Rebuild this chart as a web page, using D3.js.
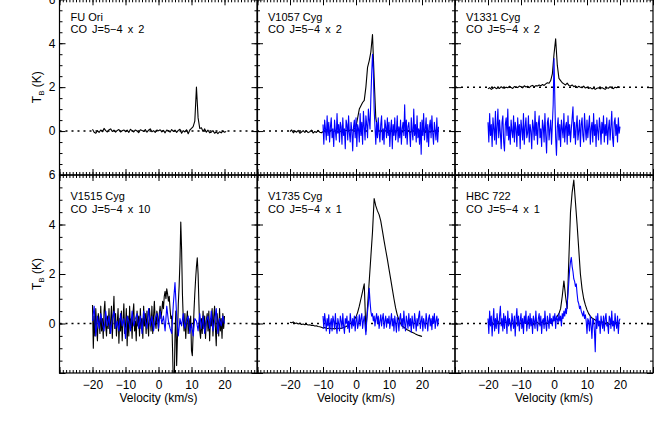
<!DOCTYPE html>
<html><head><meta charset="utf-8">
<script src="https://cdn.jsdelivr.net/npm/d3@7"></script>
<style>
body{margin:0;background:#fff}
svg{display:block}
text{font-family:"Liberation Sans",Arial,Helvetica,sans-serif;fill:#000}
</style>
</head><body>
<script>
// ---------------- data ----------------
const panelNames = ["FU Ori","V1057 Cyg","V1331 Cyg","V1515 Cyg","V1735 Cyg","HBC 722"];
const scaleFactors = [2,2,2,10,1,1];
const blackOffsets = [0,0,2,0,0,0];
const xTickValues = [-20,-10,0,10,20];
const yTickValues = [0,2,4,6];
const xDomain = [-30,30];
const yDomain = [-2,6];

// velocity grids: [start, step] (km/s)
const fuOriBlackGrid = [-20,0.5];
const fuOriBlack = [.08,-.05,-.1,.02,-.06,.05,-.03,.12,.02,-.04,
 .06,.1,-.02,.04,-.05,.03,.07,-.04,.01,.05,
 -.03,.04,-.06,.08,.02,-.04,.05,.0,-.07,.06,
 .03,-.02,.07,-.05,.04,.1,-.03,.02,-.06,.05,
 .01,.06,-.04,.03,-.08,.05,.02,-.05,.07,-.02,
 .04,-.06,.03,.08,-.1,.02,-.04,.06,-.12,.05,
 .12,.2,.45,2.0,.6,.12,.15,-.02,.1,-.05,
 .04,-.08,-.05,.02,-.1,-.04,-.12,-.03,-.08,.0,-.05,-.02];

const v1057BlackGrid = [-20,0.5];
const v1057Black = [-.02,.05,-.08,.0,-.05,.03,-.1,-.04,.02,-.06,
 .01,-.07,-.03,.04,-.09,-.02,-.06,.03,-.05,-.08,
 -.03,.02,-.06,.04,-.02,.05,-.04,.0,.03,-.05,
 .02,-.03,.05,-.01,.04,.0,.03,.06,.04,.1,
 .2,.6,1.0,1.15,1.3,1.4,2.0,2.9,3.2,3.6,
 4.4,2.4,.6,.12,.02,-.04,.05,-.03,.02,-.06,
 .03,-.05,.04,.0,-.07,.05,-.02,.03,-.04,.01,
 .05,-.03,.02,-.06,.04,.0,-.05,.03,-.02,.04,
 -.04,.02,-.06,.03,.0,-.05,.04,-.02,.03,-.06,.01];
const v1057BlueGrid = [-10,0.25];
const v1057Blue = [.3,-.6,.5,.1,-.4,.7,-.2,.4,-.5,.2,.6,-.3,.1,-.7,.5,.0,-.4,.8,-.1,.3,
 -.5,.4,.2,-.6,.6,-.2,.1,-.8,.5,.3,-.4,.7,-.1,-.5,.4,.0,-.9,.2,.5,-.3,
 .6,-.7,.3,.1,-.5,.8,-.2,.4,-.6,.9,.2,-.4,.7,.3,-.3,1.0,.5,.1,1.5,2.6,
 3.5,2.8,1.0,.2,-.6,.4,-.3,.6,-.1,-.5,.3,.7,-.4,.1,-.6,.5,.2,-.3,.6,-.2,
 .4,-.7,.1,.5,-.8,.3,-.2,.6,-.4,.0,.7,-.5,.2,-.3,.5,-.6,.1,.4,-.2,1.2,
 -.3,.5,-.6,.2,.4,-.1,-.7,.6,.0,-.4,1.0,-.2,.3,-.5,.7,-.3,.1,-.6,.4,-1.05,
 .5,-.2,.8,-.4,.1,.6,-.5,.3,-.7,.2,.5,-.3,.7,-.1,-.6,.4,.0,-.4,.6,-.5,.2];

const v1331BlackGrid = [-20,0.5];
const v1331Black = [-.08,-.02,-.1,-.05,.0,-.07,-.03,-.06,.02,-.04,
 -.05,.0,-.03,.04,-.02,-.06,.03,.0,-.02,.05,
 .02,-.03,.06,.01,.04,-.02,.05,.08,.02,.07,
 .05,.1,.06,.12,.08,.15,.2,.18,.3,.6,
 1.5,2.2,1.0,.4,.3,.2,.15,.1,.18,.08,
 .05,.1,.02,.06,-.02,.04,.0,-.03,.05,-.04,
 .0,-.06,-.02,-.08,-.04,-.1,-.05,-.03,-.08,-.02,
 -.06,-.1,-.03,-.05,.02,-.04,-.07,.0,-.03,.02,-.01];
const v1331BlueGrid = [-20,0.25];
const v1331Blue = [.4,-.5,.8,-.2,.3,-.7,.6,.1,-.4,.9,-.6,.2,1.0,-.3,.5,-.1,-.8,.4,.7,-.5,
 -.9,.3,.6,-.2,1.0,-.4,.2,-.6,.5,.0,-.3,.7,-.5,.4,.1,-.7,.6,-.2,.3,-.8,
 .5,.1,-.4,.8,-.6,.2,.6,-.3,-.1,.7,-.5,.3,.0,-.8,.5,.2,-.4,.9,-.2,.4,
 -.6,.3,.7,-.3,.1,-.7,.5,.2,-.5,.8,-.2,-1.0,.4,.6,-.4,.1,.5,-.6,.3,1.2,
 3.3,1.5,-.3,-1.1,.2,.6,-.4,.3,-.7,.5,.1,-.3,.8,-.5,.2,.4,-.6,.7,-.2,.3,
 -.5,.1,.6,1.1,-.3,.4,-.6,.2,.7,-.4,.0,.5,-.7,.3,.6,-.2,-.5,.8,.1,-.4,
 .5,-.3,.2,.7,-.6,.1,.4,-.5,.8,-.2,.3,-.7,.5,.0,-.4,.6,.2,-.6,.4,-.1,
 .7,-.5,.3,-.2,.6,-.6,.1,.5,-.4,.2,.9,-.3,-.7,.4,.6,-.2,.3,-.5,.6,-.1,.2];

const v1515BlackGrid = [-20,0.25];
const v1515Black = [.75,-1.0,.3,-.5,.6,-.2,-.7,.4,.1,-.4,.7,-.3,.2,-.6,.5,.9,-.1,-.5,.3,-.2,
 .6,-.4,.1,.7,-.6,.3,1.1,-.2,.4,-.5,.0,.6,-.8,.2,-.3,.5,-.7,.1,.8,-.4,
 -.1,.6,-.9,.3,-.5,.7,-.2,.2,-.6,.4,.8,-.3,.1,-.7,.5,-.1,.3,-.5,.6,-.2,
 .2,-.6,.7,-.1,.4,-.4,.5,.0,-.5,.6,.2,-.3,.7,-.4,.3,.9,.1,-.2,.5,.3,
 -.3,.4,.7,.2,.5,.9,.6,1.1,1.3,1.0,1.4,1.2,.9,1.1,.6,.2,.3,-1.0,-2.5,-2.6,
 -.5,.5,-1.7,-.5,.8,1.5,2.5,4.1,3.0,1.2,.2,-.3,.4,-.6,.1,.5,-.4,.2,-.2,.3,
 -1.1,-1.3,-.4,.5,1.2,1.8,2.3,2.65,2.0,.8,-.3,-.6,.2,-.4,.5,-.2,.3,-.6,.1,.4,
 -.3,.5,-.7,.2,-.1,.6,-.5,.3,.7,-.2,-.9,.4,.1,-.5,.6,-.3,.2,-.6,.4,-.2,.3];
const v1515BlueGrid = [-20,0.5];
const v1515Blue = [.1,.7,-.5,.3,-.2,.4,.0,-.3,.5,-.1,
 .3,-.4,.2,.5,-.2,.1,-.3,.4,-.1,.2,
 -.6,.3,.1,-.3,.5,-.1,.2,.4,-.2,.3,
 -.4,.5,.1,-.2,.6,-.1,.3,-.3,.2,.4,
 -.2,.5,.0,.3,-.3,.7,.1,-.2,-.4,.8,
 1.65,.3,-.5,.2,-.1,.4,-.2,.1,.3,-.4,
 .0,-.5,.2,.1,-.3,.4,-.2,.3,-.4,.1,
 .3,-.2,.5,-.3,.1,.6,-.4,.2,-.1,.3,.0];

const v1735BlackGrid = [-20,0.5];
const v1735Black = [.05,.03,.06,.0,.02,-.02,.01,-.04,-.02,-.05,
 -.03,-.06,-.05,-.08,-.07,-.1,-.09,-.12,-.13,-.15,
 -.18,-.16,-.19,-.2,-.18,-.21,-.2,-.22,-.19,-.2,
 -.18,-.2,-.17,-.15,-.12,-.08,-.03,.02,.08,.15,
 .27,.45,.7,1.0,1.3,1.6,-.3,.7,1.7,2.7,
 3.7,5.05,4.75,4.55,4.4,4.15,3.75,3.35,2.97,2.6,
 2.2,1.8,1.4,1.0,.63,.35,.15,.0,-.1,-.15,
 -.2,-.25,-.28,-.32,-.35,-.38,-.42,-.45,-.48,-.5,-.53];
const v1735BlueGrid = [-10,0.25];
const v1735Blue = [.3,-.2,.4,.1,-.3,.2,-.1,.35,-.4,.0,.2,-.3,.3,.1,-.2,.4,-.1,-.4,.2,.0,
 -.3,.3,.1,-.2,.4,-.1,-.4,.2,.0,.3,-.2,.1,-.35,.4,.1,-.2,.2,-.1,.3,-.3,
 .1,.3,-.2,.0,.35,-.1,.2,.4,-.2,.1,.3,-.1,-.45,.1,.5,.8,1.42,.9,.5,.3,
 .4,.1,.3,-.1,.2,.4,.0,.3,-.2,.1,.35,-.1,.2,.4,-.2,.1,.3,-.15,.2,.0,
 .3,-.2,.1,.4,-.1,.2,-.3,.3,.0,-.35,.25,.1,-.3,.2,.4,-.1,.2,-.2,.5,.0,
 -.3,.3,.1,-.2,.4,-.1,.2,-.35,.3,.0,-.2,.4,.1,-.3,.2,-.1,.3,.5,-.2,.1,
 .3,-.3,.2,.0,-.2,.4,.1,-.3,.2,.35,-.1,.2,-.25,.3,.0,.4,-.2,.1,.3,-.1,.2];

const hbc722BlackGrid = [-20,0.5];
const hbc722Black = [.05,-.04,.08,.0,-.06,.03,.1,-.02,.04,-.05,
 .02,.06,-.03,.05,-.07,.01,.04,-.02,.07,-.04,
 .03,-.05,.06,.0,-.03,.08,-.02,.04,-.06,.02,
 .05,-.03,.02,.07,-.04,.03,.0,.06,.02,.08,
 .14,.2,.3,.4,.6,1.1,1.72,1.1,.61,2.6,
 4.5,5.3,5.8,4.9,4.0,3.0,2.0,1.4,1.0,.75,
 .55,.4,.3,.22,.18,.14,.1,.08,.05,.07,
 .03,-.02,.05,.0,-.04,.03,.06,-.02,.04,.0,.02];
const hbc722BlueGrid = [-20,0.25];
const hbc722Blue = [.2,-.4,.5,-.1,.3,-.5,.1,.6,-.3,.2,-.2,.4,.0,-.4,.3,.7,-.1,.2,-.3,.4,
 -.2,.3,.1,-.4,.5,-.1,.2,.0,-.3,.4,.1,-.2,.3,-.5,.2,.6,-.1,.3,-.3,.1,
 .4,-.2,.2,-.4,.3,.0,.5,-.3,.1,.3,-.2,.4,-.1,.2,-.4,.3,.1,-.2,.5,.0,
 -.3,.2,.4,-.1,.3,-.4,.1,.2,-.2,.5,.0,-.3,.3,.1,-.2,.4,.0,.2,-.1,.3,
 .1,.4,-.2,.3,.2,.0,.4,.1,.3,-.1,.4,.2,.5,.3,.6,.4,.8,1.2,1.7,2.2,
 2.5,2.67,2.3,2.1,1.8,1.7,1.5,1.6,1.2,.9,.8,.6,.7,.5,.4,.3,.5,.2,.35,.1,
 -.4,.2,.1,-.3,.3,-.1,-.6,.2,.1,-.3,-1.14,.3,-.2,.4,-.1,.1,-.4,.3,.0,-.2,
 .3,-.3,.2,.4,-.1,.0,-.4,.3,.2,-.2,.5,-.1,.1,-.3,.4,.0,-.2,.3,-.4,.1,.2];

// ---------------- layout ----------------
const W = 660, H = 440;
const colX = [59.5, 257, 455];
const panelW = 198;
const rowY = [-0.7, 175];
const rowH = [175.7, 198];

const panels = [
  {black:[fuOriBlackGrid,fuOriBlack], blue:null},
  {black:[v1057BlackGrid,v1057Black], blue:[v1057BlueGrid,v1057Blue]},
  {black:[v1331BlackGrid,v1331Black], blue:[v1331BlueGrid,v1331Blue]},
  {black:[v1515BlackGrid,v1515Black], blue:[v1515BlueGrid,v1515Blue]},
  {black:[v1735BlackGrid,v1735Black], blue:[v1735BlueGrid,v1735Blue]},
  {black:[hbc722BlackGrid,hbc722Black], blue:[hbc722BlueGrid,hbc722Blue]}
];

const svg = d3.select("body").append("svg").attr("width",W).attr("height",H);
const defs = svg.append("defs");

function toPoints(series, offset){
  const [v0, dv] = series[0];
  return series[1].map((t,i)=>({v: v0 + i*dv, t: t + offset}));
}

panels.forEach((p, k)=>{
  const col = k % 3, row = Math.floor(k/3);
  const x0 = colX[col], x1 = x0 + panelW;
  const y0 = rowY[row], y1 = y0 + rowH[row];
  const x = d3.scaleLinear().domain(xDomain).range([x0, x1]);
  const y = d3.scaleLinear().domain(yDomain).range([y1, y0]);

  const cid = "clip" + k;
  defs.append("clipPath").attr("id", cid).append("rect")
    .attr("x", x0).attr("y", y0).attr("width", panelW).attr("height", rowH[row]);

  const g = svg.append("g");
  // dotted reference line
  g.append("line").attr("x1", x0).attr("x2", x1)
    .attr("y1", y(blackOffsets[k])).attr("y2", y(blackOffsets[k]))
    .attr("stroke","#000").attr("stroke-width",1.5).attr("stroke-dasharray","2,4");

  const line = d3.line().x(d=>x(d.v)).y(d=>y(d.t));
  const lg = g.append("g").attr("clip-path", `url(#${cid})`);
  lg.append("path").datum(toPoints(p.black, blackOffsets[k]))
    .attr("d", line).attr("fill","none").attr("stroke","#000").attr("stroke-width",1.1)
    .attr("stroke-linejoin","round");
  if (p.blue) {
    lg.append("path").datum(toPoints(p.blue, 0))
      .attr("d", line).attr("fill","none").attr("stroke","#0000ff").attr("stroke-width",1.1)
      .attr("stroke-linejoin","round");
  }

  // axes (ticks inward)
  const xMajor = d3.range(-30, 31, 10), xMinor = d3.range(-30, 31, 1);
  const yMajor = d3.range(-2, 6.01, 2), yMinor = d3.range(-2, 6.01, 0.5);
  const addAxis = (axis, tr) => {
    const a = g.append("g").attr("transform", tr).call(axis);
    a.select(".domain").remove();
    a.selectAll("line").attr("stroke","#000").attr("stroke-width",1);
    return a;
  };
  addAxis(d3.axisBottom(x).tickValues(xMinor).tickSize(-3).tickFormat(""), `translate(0,${y1})`);
  addAxis(d3.axisBottom(x).tickValues(xMajor).tickSize(-6).tickFormat(""), `translate(0,${y1})`);
  addAxis(d3.axisTop(x).tickValues(xMinor).tickSize(-3).tickFormat(""), `translate(0,${y0})`);
  addAxis(d3.axisTop(x).tickValues(xMajor).tickSize(-6).tickFormat(""), `translate(0,${y0})`);
  addAxis(d3.axisLeft(y).tickValues(yMinor).tickSize(-3).tickFormat(""), `translate(${x0},0)`);
  addAxis(d3.axisLeft(y).tickValues(yMajor).tickSize(-6).tickFormat(""), `translate(${x0},0)`);
  addAxis(d3.axisRight(y).tickValues(yMinor).tickSize(-3).tickFormat(""), `translate(${x1},0)`);
  addAxis(d3.axisRight(y).tickValues(yMajor).tickSize(-6).tickFormat(""), `translate(${x1},0)`);

  // frame
  g.append("rect").attr("x", x0).attr("y", y0).attr("width", panelW).attr("height", rowH[row])
    .attr("fill","none").attr("stroke","#000").attr("stroke-width",1.2);

  // tick labels
  if (col === 0) {
    const a = g.append("g").attr("transform", `translate(${x0},0)`)
      .call(d3.axisLeft(y).tickValues(yTickValues).tickSize(0).tickPadding(4));
    a.select(".domain").remove();
    a.selectAll("text").attr("font-size", 12).attr("font-family", null);
    a.attr("font-family", null);
    // y title
    const t = g.append("text").attr("transform", `translate(41,${(y0+y1)/2}) rotate(-90)`)
      .attr("text-anchor","middle").attr("font-size",12);
    t.append("tspan").text("T");
    t.append("tspan").attr("font-size",8).attr("dy",3).text("B");
    t.append("tspan").attr("dy",-3).text(" (K)");
  }
  if (row === 1) {
    const a = g.append("g").attr("transform", `translate(0,${y1})`)
      .call(d3.axisBottom(x).tickValues(xTickValues).tickSize(0).tickPadding(7));
    a.select(".domain").remove();
    a.selectAll("text").attr("font-size", 12);
    a.attr("font-family", null);
    g.append("text").attr("x", (x0+x1)/2).attr("y", 402).attr("text-anchor","middle")
      .attr("font-size",12).text("Velocity (km/s)");
  }

  // annotations
  g.append("text").attr("x", x0 + 11).attr("y", y(5.0)).attr("font-size", 11).text(panelNames[k]);
  g.append("text").attr("x", x0 + 11).attr("y", y(4.45)).attr("font-size", 11)
    .attr("word-spacing", 2).text(`CO J=5\u22124 x ${scaleFactors[k]}`);
});
</script>
</body></html>
